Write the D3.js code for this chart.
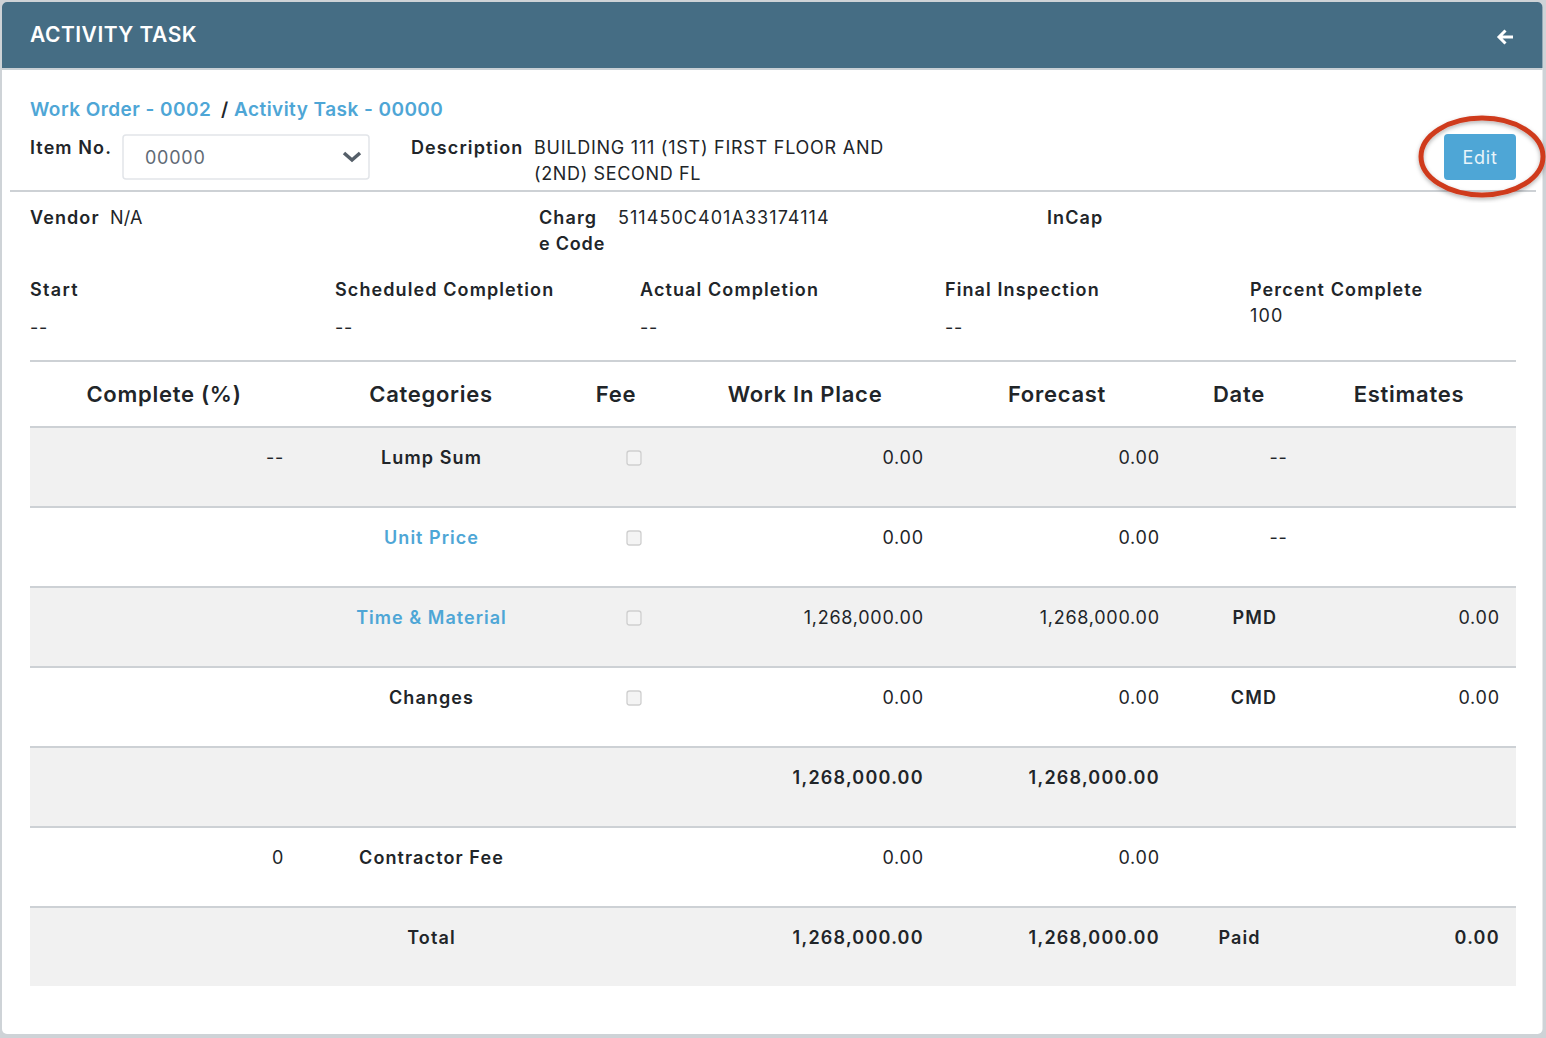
<!DOCTYPE html>
<html>
<head>
<meta charset="utf-8">
<title>Activity Task</title>
<script src="https://cdnjs.cloudflare.com/ajax/libs/d3/7.8.5/d3.min.js"></script>
<style>
  html, body { margin: 0; padding: 0; background: #fff; overflow: hidden; }
  svg { display: block; }
  text { font-family: Inter, "Noto Sans", sans-serif; fill: #212529; font-size: 18px; letter-spacing: 0.75px; }
  .b { font-weight: 600; letter-spacing: 1.1px; }
  .link { fill: #4ea6d6; font-weight: 600; letter-spacing: 1.02px; }
  .total { letter-spacing: 1.22px; }
</style>
</head>
<body>
<svg id="chart" width="1546" height="1038"></svg>
<script>
// Table values
const columns = ['Complete (%)', 'Categories', 'Fee', 'Work In Place', 'Forecast', 'Date', 'Estimates'];
const complete = ['--', '', '', '', '', '0', ''];
const categories = ['Lump Sum', 'Unit Price', 'Time & Material', 'Changes', '', 'Contractor Fee', 'Total'];
const linked = ['Unit Price', 'Time & Material'];
const hasFee = [true, true, true, true, false, false, false];
const workInPlace = [0, 0, 1268000, 0, 1268000, 0, 1268000];
const forecast = [0, 0, 1268000, 0, 1268000, 0, 1268000];
const dates = ['--', '--', 'PMD', 'CMD', '', '', 'Paid'];
const estimates = [null, null, 0, 0, null, null, 0];
const boldRows = [4, 6];

const money = d3.format(',.2f');
const svg = d3.select('#chart');

// Card and header
svg.append('rect').attr('width', 1546).attr('height', 1038).attr('fill', '#ced3d7');
svg.append('rect').attr('x', 2).attr('y', 2).attr('width', 1540.5).attr('height', 1032).attr('rx', 5).attr('fill', '#fff');
svg.append('path').attr('d', 'M2 68V7a5 5 0 0 1 5-5H1537.5a5 5 0 0 1 5 5V68Z').attr('fill', '#456d84');
svg.append('rect').attr('x', 2).attr('y', 68).attr('width', 1540.5).attr('height', 2).attr('fill', '#c9d0d5');
svg.append('text').attr('x', 30).attr('y', 42).attr('class', 'b').style('fill', '#fff')
  .style('font-size', '21px').style('letter-spacing', '0.5px').text('ACTIVITY TASK');
svg.append('path').attr('d', 'M1513 37H1499M1505.5 30.5L1499 37L1505.5 43.5')
  .attr('fill', 'none').attr('stroke', '#fff').attr('stroke-width', 3);

// Breadcrumb
const crumb = (x, s, cls) => svg.append('text').attr('x', x).attr('y', 116).attr('class', cls)
  .style('font-size', '19px').style('letter-spacing', '0.45px').text(s);
crumb(30, 'Work Order - 0002', 'link');
crumb(221, '/', 'b');
crumb(234, 'Activity Task - 00000', 'link');

// Item select
const label = (x, y, s) => svg.append('text').attr('x', x).attr('y', y).attr('class', 'b').text(s);
const value = (x, y, s) => svg.append('text').attr('x', x).attr('y', y).text(s);
label(30, 154, 'Item No.');
svg.append('rect').attr('x', 123).attr('y', 135).attr('width', 246).attr('height', 44).attr('rx', 3)
  .attr('fill', '#fff').attr('stroke', '#e2e5e9').attr('stroke-width', 1.5);
value(145, 164, '00000').style('fill', '#5f6a75');
svg.append('path').attr('d', 'M344 153L352 160L360 153').attr('fill', 'none').attr('stroke', '#555f69').attr('stroke-width', 3.5);

label(411, 154, 'Description');
value(534, 154, 'BUILDING 111 (1ST) FIRST FLOOR AND');
value(534, 180, '(2ND) SECOND FL').style('letter-spacing', '0.65px');

// Edit button with the red marker ellipse
svg.append('rect').attr('x', 1444).attr('y', 134).attr('width', 72).attr('height', 46).attr('rx', 4).attr('fill', '#4ea6d6');
value(1480, 164, 'Edit').attr('text-anchor', 'middle').style('fill', '#e8f4fa');

svg.append('rect').attr('x', 10).attr('y', 190).attr('width', 1526).attr('height', 2).attr('fill', '#cdd1d5');
const blur = svg.append('defs').append('filter').attr('id', 'soft');
blur.append('feDropShadow').attr('dx', 0).attr('dy', 2).attr('stdDeviation', 2).attr('flood-color', '#000').attr('flood-opacity', 0.3);
svg.append('ellipse').attr('cx', 1482).attr('cy', 156.5).attr('rx', 61).attr('ry', 38.5)
  .attr('fill', 'none').attr('stroke', '#cf3b1f').attr('stroke-width', 5).attr('filter', 'url(#soft)');

// Detail fields
label(30, 224, 'Vendor');
value(110, 224, 'N/A').style('letter-spacing', '0.2px');
label(539, 224, 'Charg');
label(539, 250, 'e Code').style('letter-spacing', '0.8px');
value(618, 224, '511450C401A33174114').style('letter-spacing', '1.05px');
label(1047, 224, 'InCap');

label(30, 296, 'Start').style('letter-spacing', '1.3px');
value(30, 334, '--');
label(335, 296, 'Scheduled Completion');
value(335, 334, '--');
label(640, 296, 'Actual Completion');
value(640, 334, '--');
label(945, 296, 'Final Inspection');
value(945, 334, '--');
label(1250, 296, 'Percent Complete');
value(1250, 322, '100').style('letter-spacing', '1.1px');

// Table scales
const rowIds = d3.range(categories.length);
const y = d3.scaleBand().domain(rowIds).range([427, 987]);
const headX = d3.scaleOrdinal().domain(columns).range([164, 431, 616, 805, 1057, 1239, 1409]);
const tableLeft = 30, tableRight = 1516;

svg.append('rect').attr('x', tableLeft).attr('y', 360).attr('width', tableRight - tableLeft).attr('height', 2).attr('fill', '#cdd1d5');
svg.selectAll('.head').data(columns).enter().append('text')
  .attr('class', 'head b')
  .attr('x', d => headX(d))
  .attr('y', 402)
  .attr('text-anchor', 'middle')
  .style('font-size', '22px')
  .style('letter-spacing', '0.72px')
  .text(d => d);

// Striped rows
svg.selectAll('.row').data(rowIds).enter().append('rect')
  .attr('class', 'row')
  .attr('x', tableLeft)
  .attr('y', d => y(d))
  .attr('width', tableRight - tableLeft)
  .attr('height', d => d === rowIds.length - 1 ? y.bandwidth() - 1 : y.bandwidth())
  .attr('fill', d => d % 2 === 0 ? '#f1f1f1' : '#fff');
svg.selectAll('.rule').data(rowIds.slice(0, -1).concat(-1)).enter().append('rect')
  .attr('class', 'rule')
  .attr('x', tableLeft)
  .attr('y', d => d < 0 ? y(0) - 1 : y(d) + y.bandwidth() - 1)
  .attr('width', tableRight - tableLeft)
  .attr('height', 2)
  .attr('fill', '#cdd1d5');

const baseline = d => y(d) + 37.4;
const cell = (cls, fn) => svg.selectAll('.' + cls).data(rowIds).enter().append('text')
  .attr('class', cls).attr('y', baseline).text(fn);

cell('c-complete', d => complete[d]).attr('x', 284).attr('text-anchor', 'end');
cell('c-cat', d => categories[d]).attr('x', 431.5).attr('text-anchor', 'middle')
  .attr('class', d => linked.includes(categories[d]) ? 'c-cat link' : 'c-cat b');

svg.selectAll('.fee').data(rowIds.filter(d => hasFee[d])).enter().append('rect')
  .attr('class', 'fee')
  .attr('x', 627).attr('y', d => y(d) + 24)
  .attr('width', 14).attr('height', 14).attr('rx', 2.5)
  .attr('fill', '#f4f4f4').attr('stroke', '#cfcfcf').attr('stroke-width', 1.3);

cell('c-wip', d => money(workInPlace[d])).attr('text-anchor', 'end')
  .attr('x', 923.8)
  .classed('b total', d => boldRows.includes(d));
cell('c-fc', d => money(forecast[d])).attr('text-anchor', 'end')
  .attr('x', 1159.8)
  .classed('b total', d => boldRows.includes(d));
cell('c-date', d => dates[d])
  .attr('x', d => dates[d] === '--' ? 1287.5 : dates[d] === 'Paid' ? 1239.5 : 1277)
  .attr('text-anchor', d => dates[d] === 'Paid' ? 'middle' : 'end')
  .classed('b', d => dates[d] !== '--');
cell('c-est', d => estimates[d] === null ? '' : money(estimates[d])).attr('text-anchor', 'end')
  .attr('x', 1499.8)
  .classed('b total', d => boldRows.includes(d));
</script>
</body>
</html>
